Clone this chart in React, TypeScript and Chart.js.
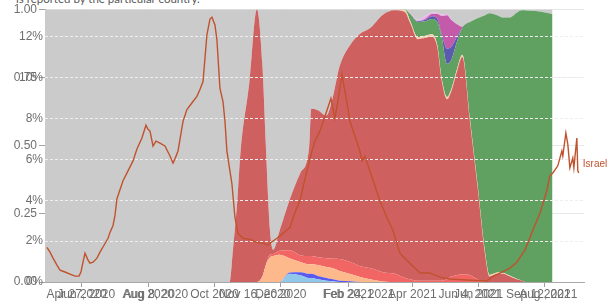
import React, { useEffect, useRef } from "react";
import { Chart, registerables } from "chart.js";

Chart.register(...registerables);

// ---------- Variant shares (stacked areas), x = days since 2020-04-28 ----------
const variantDays = [0, 143, 168, 170, 173, 177, 180, 188, 195, 200, 203, 207, 210, 216, 225, 235, 243, 245, 251, 259, 265, 271, 281, 290, 299, 311, 322, 331, 336, 343, 350, 356, 361, 365, 370, 374, 379, 384, 391, 398, 405, 409, 416, 421, 428, 434, 439, 443, 451, 460, 467];

const lightBlueShare = [0,0,0,0,0,0,0,0,0,0,0,0,0,0, .03,.025,.015,.015,.01,.005,.003, 0,0,0,0,0,0,0,0,0,0,0,0,0,0,0,0,0,0,0,0,0,0,0,0,0,0,0,0,0,0];
const blueShare = [0,0,0,0,0,0,0,0,0,0,0,0,0,0, .005,.011,.015,.015,.012,.01,.007,.005,.003, 0,0,0,0,0,0,0,0,0,0,0,0,0,0,0,0,0,0,0,0,0,0,0,0,0,0,0,0];
const peachShare = [0,0,0,0,0,0,0,0,0, .02,.06,.09,.095,.10,.052,.037,.035,.035,.04,.04,.04,.035,.026,.018,.01,.002, 0,0,0,0,0,0,0,0,0,0,0,0,0,0,0,0,0,0,0,0,0,0,0,0,0];
const lightRedShare = [0,0,0,0,0,0,0,0,0,0,0, .01,.008,.015,.029,.025,.03,.03,.029,.032,.035,.044,.044,.04,.041,.034,.03,.015,.01,.005,.005,.005,.005,.005,.01,.02,.025,.028,.025,.01, 0,0,0,0,0,0,0,0,0,0,0];
const alphaShare = [0,0,0,0, .12,.30,.48,.73,1.0,.78,.46,.09,.015,.075,.184,.302,.395,.54,.539,.523,.595,.706,.797,.852,.879,.944,.966,.975,.94,.885,.89,.895,.855,.735,.66,.68,.745,.797,.565,.34,.10,.02,.03,.03,.02,.01,.005, 0,0,0,0];
const betaShare = [0,0,0,0,0,0,0,0,0,0,0,0,0,0,0,0,0,0,0,0,0,0,0,0,0,0,0, .008,.008,.008,.008,.008,.008,.008,.008,.008,.008,.008,.008,.008,.008,.006,.005,.004,.003,.002, 0,0,0,0,0];
const deltaShare = [0,0,0,0,0,0,0,0,0,0,0,0,0,0,0,0,0,0,0,0,0,0,0,0,0,0,0, .002,.025,.055,.053,.056,.085,.15,.122,.107,.102,.098,.355,.609,.87,.959,.943,.936,.947,.975,.991,.995,.993,.988,.982];
const darkBlueShare = [0,0,0,0,0,0,0,0,0,0,0,0,0,0,0,0,0,0,0,0,0,0,0,0,0,0,0,0,0, .003,.005,.01,.012,.01,.055,.047,.018, 0,0,0,0,0,0,0,0,0,0,0,0,0,0];
const gammaShare = [0,0,0,0,0,0,0,0,0,0,0,0,0,0,0,0,0,0,0,0,0,0,0,0,0,0,0,0,0,0, .004,.008,.017,.067,.123,.098,.047,.005, 0,0,0,0,0,0,0,0,0,0,0,0,0];
const lavenderShare = [0,0,0,0,0,0,0,0,0,0,0,0,0,0,0,0,0,0,0,0,0,0,0,0,0,0,0,0, .003,.005,.01,.006,.004,.005,.005,.003, 0,0,0,0,0,0,0,0,0,0,0,0,0,0,0];
const othersShare = [1,1,1,1,.88,.70,.52,.27,0,.20,.48,.81,.882,.81,.70,.60,.51,.365,.37,.39,.32,.21,.13,.09,.07,.02,.004,0,.014,.039,.025,.012,.014,.02,.017,.037,.055,.064,.047,.033,.022,.015,.022,.03,.03,.013,.004,.005,.007,.012,.018];

const variantTickDays = [34, 95, 156, 217, 279, 338, 399, 460];
const variantTickLabels = ["Jun 2020", "Aug 2020", "Oct 2020", "Dec 2020", "Feb 2021", "Apr 2021", "Jun 2021", "Aug 2021"];
const shareTicks = [0, 0.25, 0.5, 0.75, 1];

// ---------- Israel positive rate (%) ----------
const lineDays = [1.8,4.6,7.4,11.0,13.8,18.4,23.0,27.6,31.3,33.1,35.0,36.8,39.6,41.4,44.2,47.8,50.6,54.3,58.0,59.8,62.6,64.4,66.2,71.8,76.4,81.0,84.6,89.2,92.9,94.8,96.6,99.4,102.1,105.8,110.4,115.0,117.8,119.6,122.4,127.0,130.6,136.2,139.8,142.6,145.4,149.0,151.8,153.6,156.4,158.2,161.0,163.8,165.6,167.4,172.0,174.8,177.6,182.2,188.6,195.0,200.6,205.2,207.0,213.4,219.0,225.4,230.0,234.6,237.4,241.0,245.6,248.4,253.0,257.6,263.1,266.8,269.5,273.2,276.0,278.7,280.6,285.2,289.8,291.6,294.4,299.0,308.2,314.6,320.1,326.6,333.0,345.0,354.2,363.4,372.6,388.2,406.6,411.2,418.6,427.8,434.2,439.7,441.6,448.9,455.4,461.8,464.6,467.3,471.9,475.6,476.5,479.3,481.1,483.0,485.7,486.7,489.4,490.3,491.2];
const israelRate = [1.70,1.46,1.17,0.83,0.58,0.49,0.39,0.29,0.29,0.49,0.97,1.41,1.07,0.92,0.97,1.17,1.46,1.80,2.14,2.43,2.77,3.26,4.08,4.96,5.44,5.93,6.51,7.05,7.68,7.48,7.39,6.66,6.90,6.80,6.66,6.17,5.83,6.03,6.41,7.87,8.45,8.84,9.09,9.43,9.82,12.10,12.88,12.97,12.59,11.86,9.48,8.84,7.87,6.41,4.81,3.16,2.38,2.14,2.09,1.94,1.90,1.80,1.90,2.14,2.38,2.67,3.40,3.98,4.62,5.44,6.41,6.90,7.39,8.11,8.99,8.02,8.84,10.16,9.33,8.50,7.87,7.14,6.41,5.93,6.17,5.44,3.98,3.16,2.53,1.41,1.07,0.44,0.44,0.24,0.15,0.10,0.05,0.24,0.44,0.68,0.97,1.41,1.55,2.53,3.35,4.47,5.20,5.34,5.69,6.41,6.17,7.29,6.75,5.59,6.07,5.59,7.05,5.44,5.34];

const lineTickDays = [33, 102, 193, 289, 391, 457];
const lineTickLabels = ["Apr 27, 2020", "Aug 8, 2020", "Nov 16, 2020", "Feb 24, 2021", "Jun 4, 2021", "Sep 12, 2021"];
const rateTicks = [0, 2, 4, 6, 8, 10, 12];

const X_MAX = 496;
const RATE_MAX = 13.36;

const FONT = { family: '"Liberation Sans", Arial, sans-serif', size: 12 };
const TEXT_COLOR = "#6e6e6e";
const LINE_COLOR = "#c0522e";

const variantSeries = [
  { label: "B.1.160", values: lightBlueShare, color: "#90c8ec" },
  { label: "B.1.258", values: blueShare, color: "#5a5aee" },
  { label: "B.1.177", values: peachShare, color: "#fdb98b" },
  { label: "B.1.221", values: lightRedShare, color: "#f26565" },
  { label: "Alpha", values: alphaShare, color: "#cf6060" },
  { label: "Beta", values: betaShare, color: "#f4cdaa" },
  { label: "Delta", values: deltaShare, color: "#60a060" },
  { label: "Epsilon", values: darkBlueShare, color: "#5a5ab0" },
  { label: "Gamma", values: gammaShare, color: "#c45aaa" },
  { label: "Eta", values: lavenderShare, color: "#e8b4e8" },
  { label: "Others", values: othersShare, color: "#cbcbcb" },
];

const labelPlugin = {
  id: "endLabel",
  afterDatasetsDraw(chart: any) {
    const meta = chart.getDatasetMeta(0);
    const last = meta.data[meta.data.length - 1];
    if (!last) return;
    const ctx = chart.ctx;
    ctx.save();
    ctx.font = '10px "Liberation Sans", Arial, sans-serif';
    ctx.fillStyle = LINE_COLOR;
    ctx.textBaseline = "middle";
    ctx.textAlign = "left";
    ctx.fillText("Israel", last.x + 4, last.y - 9);
    ctx.restore();
  },
};

export default function App() {
  const areaRef = useRef<HTMLCanvasElement | null>(null);
  const lineRef = useRef<HTMLCanvasElement | null>(null);

  useEffect(() => {
    const areaChart = new Chart(areaRef.current as HTMLCanvasElement, {
      type: "line",
      data: {
        datasets: variantSeries.map((s, i) => ({
          label: s.label,
          data: variantDays.map((d, j) => ({ x: d, y: s.values[j] })),
          backgroundColor: s.color,
          borderColor: s.color,
          borderWidth: 0,
          pointRadius: 0,
          fill: i === 0 ? "origin" : "-1",
          cubicInterpolationMode: "monotone",
        })),
      },
      options: {
        responsive: false,
        animation: false,
        devicePixelRatio: 1,
        layout: { padding: { left: 0, right: 32, top: 7, bottom: 0 } },
        plugins: { legend: { display: false }, tooltip: { enabled: false } },
        scales: {
          x: {
            type: "linear",
            min: 0,
            max: X_MAX,
            z: 1,
            afterBuildTicks: (s: any) => {
              s.ticks = variantTickDays.map((v) => ({ value: v }));
            },
            afterFit: (s: any) => {
              s.height = 25;
            },
            ticks: {
              callback: (_v: any, i: number) => variantTickLabels[i],
              autoSkip: false,
              maxRotation: 0,
              padding: 0,
              color: TEXT_COLOR,
              font: FONT,
            },
            grid: { color: "rgba(0,0,0,0.09)", tickColor: "#a0a0a0", tickLength: 5 },
            border: { color: "#a8a8a8" },
          },
          y: {
            type: "linear",
            stacked: true,
            min: 0,
            max: 1,
            z: 1,
            afterBuildTicks: (s: any) => {
              s.ticks = shareTicks.map((v) => ({ value: v }));
            },
            afterFit: (s: any) => {
              s.width = 45;
            },
            ticks: {
              callback: (v: any) => Number(v).toFixed(2),
              padding: 2,
              color: TEXT_COLOR,
              font: FONT,
            },
            grid: { color: "rgba(0,0,0,0.09)", tickColor: "#a0a0a0", tickLength: 6 },
            border: { color: "#a8a8a8" },
          },
        },
      },
    } as any);

    const lineChart = new Chart(lineRef.current as HTMLCanvasElement, {
      type: "line",
      data: {
        datasets: [
          {
            label: "Israel",
            data: lineDays.map((d, i) => ({ x: d, y: israelRate[i] })),
            borderColor: LINE_COLOR,
            backgroundColor: LINE_COLOR,
            borderWidth: 1.4,
            pointRadius: 0,
            fill: false,
            tension: 0,
          },
        ],
      },
      options: {
        responsive: false,
        animation: false,
        devicePixelRatio: 1,
        layout: { padding: { left: 0, right: 32, top: 7, bottom: 0 } },
        plugins: { legend: { display: false }, tooltip: { enabled: false } },
        scales: {
          x: {
            type: "linear",
            min: 0,
            max: X_MAX,
            afterBuildTicks: (s: any) => {
              s.ticks = lineTickDays.map((v) => ({ value: v }));
            },
            afterFit: (s: any) => {
              s.height = 25;
            },
            ticks: {
              callback: (_v: any, i: number) => lineTickLabels[i],
              autoSkip: false,
              maxRotation: 0,
              padding: 5,
              color: TEXT_COLOR,
              font: FONT,
            },
            grid: { display: false, drawTicks: false },
            border: { display: false },
          },
          y: {
            type: "linear",
            min: 0,
            max: RATE_MAX,
            afterBuildTicks: (s: any) => {
              s.ticks = rateTicks.map((v) => ({ value: v }));
            },
            afterFit: (s: any) => {
              s.width = 45;
            },
            ticks: {
              callback: (v: any) => `${v}%`,
              padding: 2,
              color: TEXT_COLOR,
              font: FONT,
            },
            grid: {
              drawTicks: false,
              color: (ctx: any) => (ctx.tick && ctx.tick.value === 0 ? "rgba(0,0,0,0)" : "#eeeeee"),
            },
            border: { display: false, dash: [3, 2] },
          },
        },
      },
      plugins: [labelPlugin],
    } as any);

    return () => {
      areaChart.destroy();
      lineChart.destroy();
    };
  }, []);

  return (
    <div
      style={{
        position: "fixed",
        left: 0,
        top: 0,
        width: 616,
        height: 307,
        overflow: "hidden",
        background: "#ffffff",
      }}
    >
      <div
        style={{
          position: "absolute",
          left: 16,
          top: -7,
          fontFamily: "Lato, sans-serif",
          fontSize: 11.5,
          lineHeight: "12px",
          color: "#5a5a5a",
          whiteSpace: "nowrap",
        }}
      >
        is reported by the particular country.
      </div>
      <canvas ref={areaRef} width={616} height={307} style={{ position: "absolute", left: 0, top: 0 }} />
      <canvas ref={lineRef} width={616} height={307} style={{ position: "absolute", left: 0, top: 0 }} />
    </div>
  );
}
